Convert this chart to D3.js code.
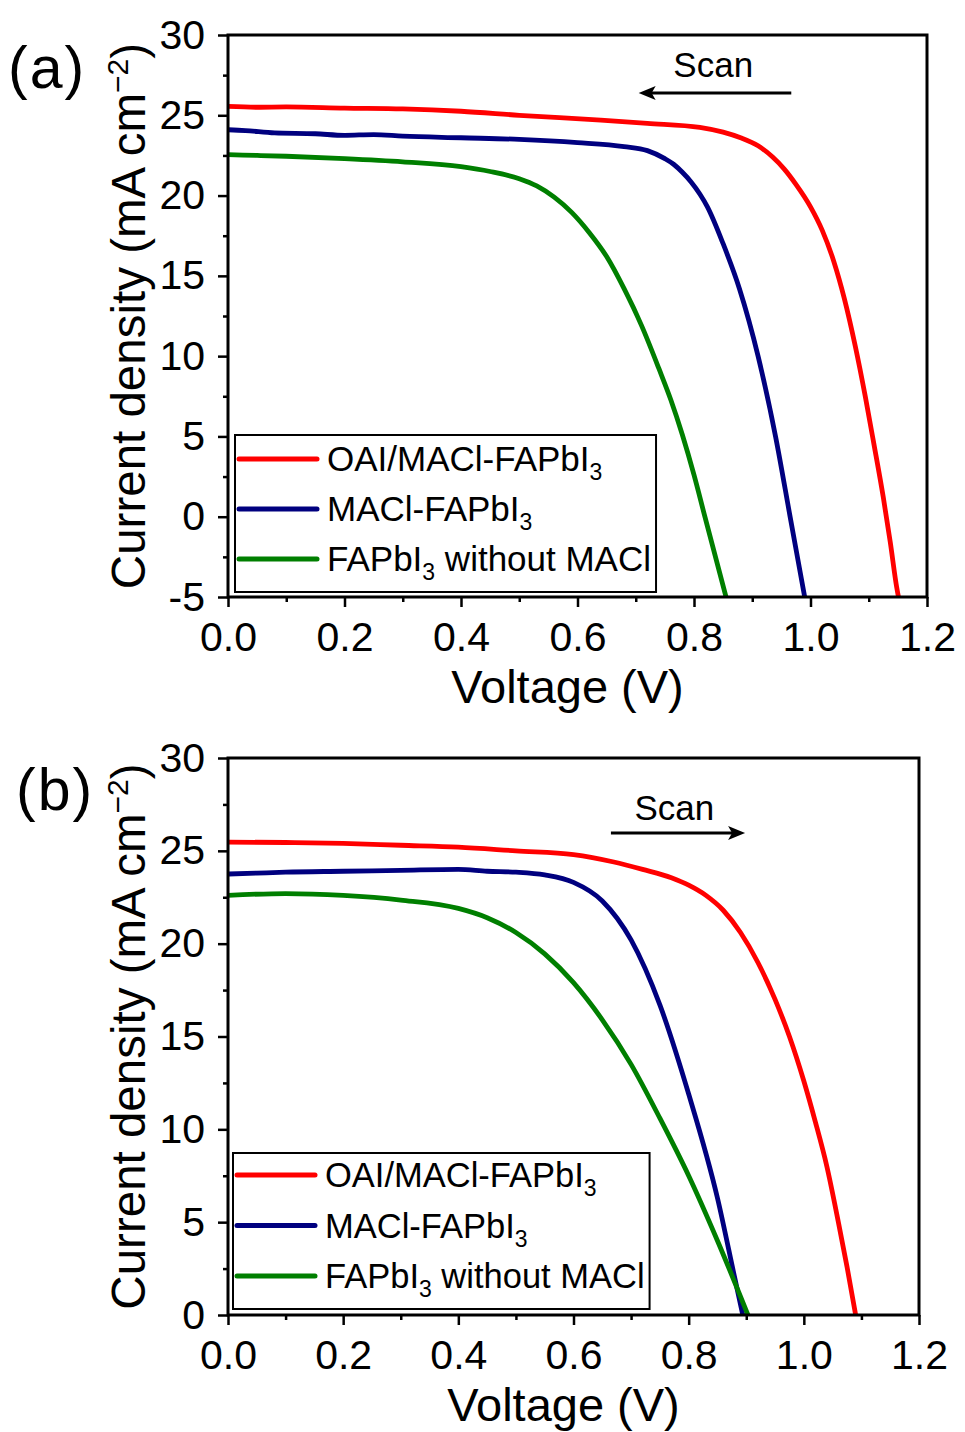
<!DOCTYPE html>
<html>
<head>
<meta charset="utf-8">
<script src="https://cdn.jsdelivr.net/npm/d3@7"></script>
<style>
  body { margin: 0; background: #ffffff; }
  svg { display: block; font-family: "Liberation Sans", Arial, sans-serif; }
</style>
</head>
<body>
<svg id="chart" width="965" height="1432"></svg>
<script>
// ---- tick values ----
const voltageTicks = [0, 0.2, 0.4, 0.6, 0.8, 1.0, 1.2];
const voltageMinorTicks = [0.1, 0.3, 0.5, 0.7, 0.9, 1.1];
const currentTicksA = [-5, 0, 5, 10, 15, 20, 25, 30];
const currentMinorA = [-2.5, 2.5, 7.5, 12.5, 17.5, 22.5, 27.5];
const currentTicksB = [0, 5, 10, 15, 20, 25, 30];
const currentMinorB = [2.5, 7.5, 12.5, 17.5, 22.5, 27.5];

// ---- series ----
const seriesColors = ["#ff0000", "#00007f", "#007f00"];
// legend labels: [text, subscript, trailing text]
const legendLabels = [
  ["OAI/MACl-FAPbI", "3", ""],
  ["MACl-FAPbI", "3", ""],
  ["FAPbI", "3", " without MACl"]
];

// (a) reverse scan, [voltage V, current density mA cm^-2]
const reverseOAI = [
  [0, 25.55], [0.05, 25.5], [0.1, 25.52], [0.2, 25.45], [0.3, 25.4], [0.4, 25.25],
  [0.5, 25.0], [0.64, 24.7], [0.72, 24.5], [0.81, 24.25], [0.85, 23.95], [0.88, 23.6],
  [0.91, 23.1], [0.935, 22.4], [0.955, 21.65], [0.975, 20.7], [1.0, 19.3], [1.02, 17.85],
  [1.04, 15.9], [1.058, 13.6], [1.077, 10.6], [1.094, 7.5], [1.109, 4.5], [1.125, 1.2],
  [1.137, -1.6], [1.148, -4.4], [1.151, -5.0]
];
const reverseMACl = [
  [0, 24.1], [0.03, 24.05], [0.08, 23.9], [0.15, 23.85], [0.2, 23.75], [0.25, 23.8],
  [0.3, 23.7], [0.4, 23.6], [0.5, 23.5], [0.6, 23.3], [0.68, 23.05], [0.72, 22.8],
  [0.75, 22.3], [0.765, 21.95], [0.78, 21.45], [0.795, 20.85], [0.81, 20.1], [0.823, 19.3],
  [0.85, 17.0], [0.878, 14.2], [0.91, 10.0], [0.94, 5.0], [0.965, 0.0], [0.99, -5.0]
];
const reverseControl = [
  [0, 22.55], [0.05, 22.5], [0.1, 22.45], [0.2, 22.3], [0.3, 22.1], [0.4, 21.8],
  [0.45, 21.5], [0.5, 21.05], [0.53, 20.6], [0.56, 19.9], [0.59, 18.95], [0.62, 17.7],
  [0.65, 16.2], [0.68, 14.2], [0.71, 11.9], [0.74, 9.2], [0.76, 7.3], [0.78, 5.1],
  [0.8, 2.6], [0.818, 0.1], [0.855, -5.0]
];

// (b) forward scan
const forwardOAI = [
  [0, 25.47], [0.1, 25.45], [0.2, 25.4], [0.3, 25.3], [0.4, 25.2], [0.5, 25.0],
  [0.6, 24.8], [0.67, 24.4], [0.72, 24.0], [0.77, 23.55], [0.8, 23.15], [0.83, 22.6],
  [0.86, 21.8], [0.89, 20.6], [0.92, 19.0], [0.95, 17.0], [0.975, 15.0], [1.0, 12.6],
  [1.02, 10.4], [1.04, 8.0], [1.06, 5.0], [1.075, 2.6], [1.09, 0.0]
];
const forwardMACl = [
  [0, 23.75], [0.05, 23.8], [0.1, 23.85], [0.2, 23.9], [0.3, 23.95], [0.4, 24.0],
  [0.45, 23.9], [0.5, 23.85], [0.55, 23.7], [0.6, 23.3], [0.65, 22.3], [0.7, 20.2],
  [0.75, 16.7], [0.8, 11.9], [0.85, 6.3], [0.88, 2.0], [0.894, 0.0]
];
const forwardControl = [
  [0, 22.6], [0.1, 22.7], [0.2, 22.6], [0.3, 22.35], [0.4, 21.9], [0.45, 21.4],
  [0.5, 20.6], [0.55, 19.45], [0.6, 17.9], [0.65, 15.9], [0.7, 13.5], [0.75, 10.6],
  [0.8, 7.5], [0.85, 4.0], [0.903, 0.0]
];

const svg = d3.select("#chart");

function drawPanel(p) {
  const x = d3.scaleLinear().domain([0, 1.2]).range([p.left, p.right]);
  const y = d3.scaleLinear().domain(p.yDomain).range([p.bottom, p.top]);
  const g = svg.append("g");

  // clip for the curves
  const clipId = "clip-" + p.id;
  svg.append("clipPath").attr("id", clipId)
    .append("rect")
    .attr("x", p.left).attr("y", p.top)
    .attr("width", p.right - p.left).attr("height", p.bottom - p.top);

  // curves
  const line = d3.line()
    .x(d => x(d[0])).y(d => y(d[1]))
    .curve(d3.curveMonotoneX);
  g.append("g").attr("clip-path", `url(#${clipId})`)
    .selectAll("path").data(p.series).join("path")
    .attr("d", line)
    .attr("fill", "none")
    .attr("stroke", (d, i) => seriesColors[i])
    .attr("stroke-width", 4.8)
    .attr("stroke-linejoin", "round");

  // axes: major + minor ticks, pointing outward
  const plain = d => String(d);
  const xMajor = d3.axisBottom(x).tickValues(voltageTicks)
    .tickFormat(d3.format(".1f")).tickSizeInner(10).tickSizeOuter(0).tickPadding(15);
  const xMinor = d3.axisBottom(x).tickValues(voltageMinorTicks)
    .tickFormat("").tickSizeInner(5).tickSizeOuter(0);
  const yMajor = d3.axisLeft(y).tickValues(p.yTicks)
    .tickFormat(plain).tickSizeInner(10).tickSizeOuter(0).tickPadding(13);
  const yMinor = d3.axisLeft(y).tickValues(p.yMinor)
    .tickFormat("").tickSizeInner(5).tickSizeOuter(0);

  [[xMajor, `translate(0,${p.bottom})`], [xMinor, `translate(0,${p.bottom})`],
   [yMajor, `translate(${p.left},0)`], [yMinor, `translate(${p.left},0)`]]
    .forEach(([ax, tr]) => {
      const a = g.append("g").attr("transform", tr).call(ax);
      a.select(".domain").remove();
      a.selectAll(".tick line").attr("stroke", "#000").attr("stroke-width", 2.5);
      a.selectAll(".tick text")
        .attr("fill", "#000")
        .style("font-family", "'Liberation Sans', Arial, sans-serif")
        .style("font-size", "41px");
    });

  // frame
  g.append("rect")
    .attr("x", p.left).attr("y", p.top)
    .attr("width", p.right - p.left).attr("height", p.bottom - p.top)
    .attr("fill", "none").attr("stroke", "#000").attr("stroke-width", 3);

  // axis titles
  g.append("text")
    .attr("x", (p.left + p.right) / 2 - 10).attr("y", p.bottom + 106)
    .attr("text-anchor", "middle")
    .style("font-size", "47px")
    .text("Voltage (V)");

  const yt = g.append("text")
    .attr("transform", `translate(${p.left - 83},${(p.top + p.bottom) / 2}) rotate(-90)`)
    .attr("text-anchor", "middle")
    .style("font-size", "47.5px");
  yt.append("tspan").text("Current density (mA cm");
  yt.append("tspan").attr("dy", -17).style("font-size", "30px").text("\u22122");
  yt.append("tspan").attr("dy", 17).text(")");

  // panel label
  g.append("text")
    .attr("x", p.labelX).attr("y", p.labelY)
    .style("font-size", "59px")
    .style("letter-spacing", "2px")
    .text(p.label);

  // scan direction annotation
  g.append("text")
    .attr("x", x(p.scanTextV)).attr("y", y(p.scanTextJ))
    .attr("text-anchor", "middle")
    .style("font-size", "35px")
    .text("Scan");
  const ax0 = x(p.arrowFrom), ax1 = x(p.arrowTo), ay = y(p.arrowJ);
  const dir = Math.sign(ax1 - ax0);
  g.append("line")
    .attr("x1", ax0).attr("y1", ay)
    .attr("x2", ax1 - dir * 12).attr("y2", ay)
    .attr("stroke", "#000").attr("stroke-width", 3);
  g.append("path")
    .attr("d", `M${ax1},${ay} L${ax1 - dir * 17},${ay - 7} L${ax1 - dir * 13},${ay} L${ax1 - dir * 17},${ay + 7} Z`)
    .attr("fill", "#000");

  // legend
  const lg = g.append("g").attr("transform", `translate(${p.legendX},${p.legendY})`);
  const rows = lg.selectAll("g.row").data(legendLabels).join("g")
    .attr("class", "row")
    .attr("transform", (d, i) => `translate(0,${p.legendRow0 + i * p.legendStep})`);
  rows.append("line")
    .attr("x1", 4).attr("x2", 82).attr("y1", 0).attr("y2", 0)
    .attr("stroke", (d, i) => seriesColors[i])
    .attr("stroke-width", 5).attr("stroke-linecap", "round");
  const lt = rows.append("text")
    .attr("x", 92).attr("y", 12)
    .style("font-size", p.legendFont + "px");
  lt.append("tspan").text(d => d[0]);
  lt.append("tspan").attr("dy", 9).style("font-size", "23px").text(d => d[1]);
  lt.append("tspan").attr("dy", -9).text(d => d[2]);

  // legend frame sized from the text
  let maxW = 0;
  lt.each(function () { maxW = Math.max(maxW, this.getComputedTextLength()); });
  lg.insert("rect", ":first-child")
    .attr("x", 0).attr("y", 0)
    .attr("width", 92 + maxW + 5).attr("height", p.legendH)
    .attr("fill", "#fff").attr("stroke", "#000").attr("stroke-width", 2);
}

drawPanel({
  id: "a", label: "(a)", labelX: 8, labelY: 88,
  left: 228, right: 927, top: 35, bottom: 597,
  yDomain: [-5, 30], yTicks: currentTicksA, yMinor: currentMinorA,
  series: [reverseOAI, reverseMACl, reverseControl],
  scanTextV: 0.833, scanTextJ: 27.4,
  arrowFrom: 0.967, arrowTo: 0.705, arrowJ: 26.39,
  legendX: 235, legendY: 435, legendH: 157, legendRow0: 24, legendStep: 50, legendFont: 35
});

drawPanel({
  id: "b", label: "(b)", labelX: 16, labelY: 810,
  left: 228, right: 919, top: 758, bottom: 1315,
  yDomain: [0, 30], yTicks: currentTicksB, yMinor: currentMinorB,
  series: [forwardOAI, forwardMACl, forwardControl],
  scanTextV: 0.775, scanTextJ: 26.66,
  arrowFrom: 0.665, arrowTo: 0.898, arrowJ: 25.96,
  legendX: 233, legendY: 1153, legendH: 156, legendRow0: 22, legendStep: 50.5, legendFont: 34.5
});
</script>
</body>
</html>
